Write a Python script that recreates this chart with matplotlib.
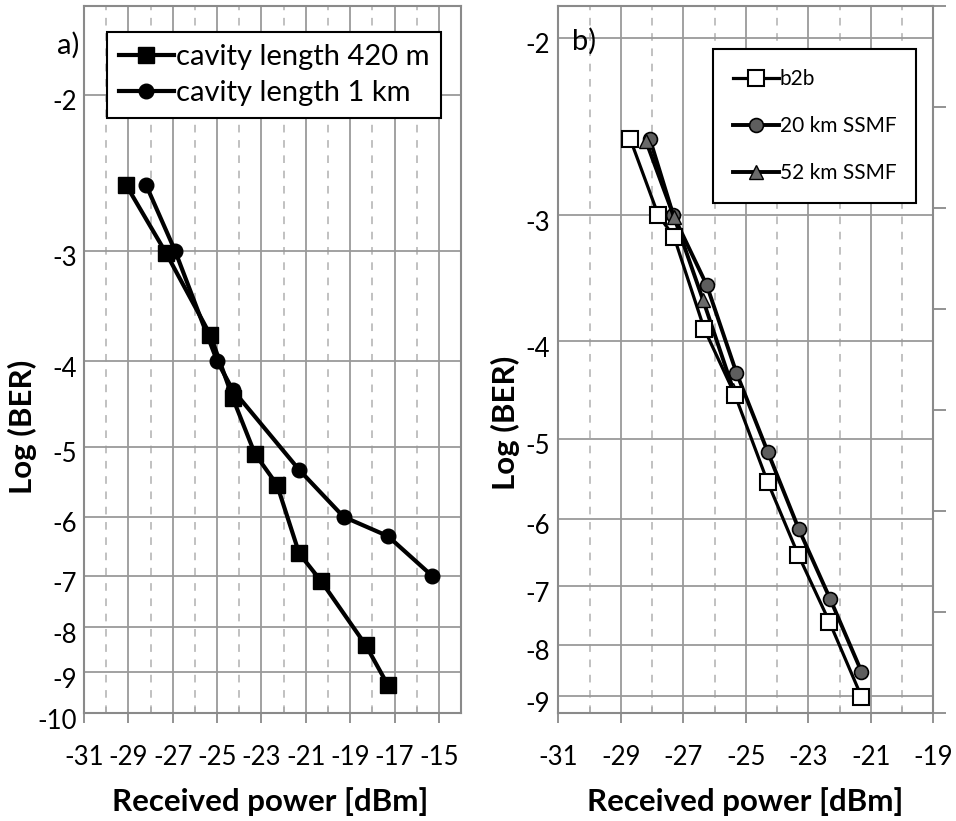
import numpy as np
import matplotlib
matplotlib.use("Agg")
import matplotlib.pyplot as plt
import matplotlib.transforms as mtransforms
from matplotlib.ticker import FixedLocator, MultipleLocator

plt.rcParams['font.family'] = ['Lato', 'DejaVu Sans']
plt.rcParams['axes.unicode_minus'] = False

# panel a) - cavity length
p_420m = [-29.1, -27.3, -25.3, -24.3, -23.3, -22.3, -21.3, -20.3, -18.3, -17.3]
ber_420m = [-2.53, -3.02, -3.74, -4.40, -5.09, -5.52, -6.60, -7.10, -8.38, -9.30]
p_1km = [-28.2, -26.9, -25.0, -24.3, -21.3, -19.3, -17.3, -15.3]
ber_1km = [-2.53, -3.00, -4.00, -4.31, -5.31, -6.00, -6.31, -7.00]

# panel b) - transmission
p_b2b = [-28.7, -27.8, -27.3, -26.33, -25.35, -24.3, -23.32, -22.33, -21.3]
ber_b2b = [-2.52, -3.00, -3.15, -3.89, -4.52, -5.52, -6.52, -7.59, -9.01]
p_20km = [-28.07, -27.32, -26.25, -25.3, -24.3, -23.3, -22.3, -21.3]
ber_20km = [-2.52, -3.00, -3.52, -4.30, -5.15, -6.15, -7.21, -8.51]
p_52km = [-28.2, -27.3, -26.37, -25.4]
ber_52km = [-2.53, -3.01, -3.64, -4.47]

yticks_a = [-2, -3, -4, -5, -6, -7, -8, -9, -10]
yticks_b = [-2, -3, -4, -5, -6, -7, -8, -9]


def fwd(y):
    y = np.asarray(y, dtype=float)
    with np.errstate(divide='ignore', invalid='ignore'):
        return -np.log10(np.maximum(-y, 1e-9))


def inv(t):
    return -10 ** (-np.asarray(t, dtype=float))


GRID = '#9a9a9a'
DASH = '#b0b0b0'


def style_axes(ax, xlim, ylim, yticks, ypad):
    ax.set_yscale('function', functions=(fwd, inv))
    ax.set_xlim(*xlim)
    ax.set_ylim(*ylim)
    ax.xaxis.set_major_locator(FixedLocator(np.arange(-31, xlim[1] + 0.1, 2)))
    ax.xaxis.set_minor_locator(FixedLocator(np.arange(-30, xlim[1] - 0.1, 2)))
    ax.set_xticklabels([str(int(v)) for v in np.arange(-31, xlim[1] + 0.1, 2)])
    ax.yaxis.set_major_locator(FixedLocator(yticks))
    ax.yaxis.set_minor_locator(FixedLocator([]))
    ax.set_yticklabels([str(v) for v in yticks])
    ax.grid(True, which='major', axis='both', color=GRID, lw=1.3, zorder=0)
    ax.grid(True, which='minor', axis='x', color=DASH, lw=1.1, ls=(0, (5, 5)), zorder=0)
    for s in ax.spines.values():
        s.set_color('#8a8a8a')
        s.set_linewidth(1.5)
    ax.tick_params(axis='x', which='major', direction='out', length=7, width=1.3,
                   color='#8a8a8a', labelsize=18.5, pad=16)
    ax.tick_params(axis='x', which='minor', direction='in', length=4, width=1.1,
                   color='#aaaaaa')
    ax.tick_params(axis='y', which='major', length=0, labelsize=18.5, pad=ypad)
    # excel puts the y labels a little below their grid line
    off = mtransforms.ScaledTranslation(0, -4 / 72, fig.dpi_scale_trans)
    for lab in ax.get_yticklabels():
        lab.set_transform(lab.get_transform() + off)
    ax.set_xlabel('Received power [dBm]', fontsize=22.5, fontweight='bold')
    ax.set_ylabel('Log (BER)', fontsize=22.5, fontweight='bold')


fig = plt.figure(figsize=(9.56, 8.21), dpi=100)

# a)
ax1 = fig.add_axes([0.0879, 0.1316, 0.3944, 0.8611])
style_axes(ax1, (-31, -14), (-10, -1.587), yticks_a, 5)
ax1.plot(p_420m, ber_420m, color='black', lw=3, marker='s', ms=11,
         mfc='black', mec='black', label='cavity length 420 m', zorder=3)
ax1.plot(p_1km, ber_1km, color='black', lw=3, marker='o', ms=10.5,
         mfc='black', mec='black', label='cavity length 1 km', zorder=3)
ax1.xaxis.set_label_coords(0.493, -0.105)
ax1.yaxis.set_label_coords(-0.125, 0.405)
leg1 = ax1.legend(loc='upper left', bbox_to_anchor=(0.061, 0.963), borderaxespad=0,
                  fontsize=21, frameon=True, fancybox=False, handlelength=1.9,
                  handletextpad=0.05, labelspacing=0.35, borderpad=0.4)
leg1.get_frame().set_edgecolor('black')
leg1.get_frame().set_linewidth(1.5)
leg1.get_frame().set_alpha(1)
fig.text(0.071, 0.945, 'a)', fontsize=21, ha='center', va='center')

# b)
ax2 = fig.add_axes([0.584, 0.1312, 0.3923, 0.8615])
style_axes(ax2, (-31, -19), (-9.36, -1.86), yticks_b, 6)
ax2.plot(p_b2b, ber_b2b, color='black', lw=2.3, marker='s', ms=11.5,
         mfc='white', mec='black', mew=1.5, label='b2b', zorder=4)
ax2.plot(p_20km, ber_20km, color='black', lw=2.8, marker='o', ms=10,
         mfc='#5e5e5e', mec='black', mew=1.2, label='20 km SSMF', zorder=3)
ax2.plot(p_52km, ber_52km, color='black', lw=2.8, marker='^', ms=10,
         mfc='#6a6a6a', mec='black', mew=1.0, label='52 km SSMF', zorder=3)
ax2.xaxis.set_label_coords(0.499, -0.105)
ax2.yaxis.set_label_coords(-0.102, 0.41)
leg2 = ax2.legend(loc='upper left', bbox_to_anchor=(0.4125, 0.939), borderaxespad=0,
                  fontsize=15, frameon=True, fancybox=False, handlelength=2.2,
                  handletextpad=0.05, labelspacing=1.3, borderpad=0.95)
leg2.get_frame().set_edgecolor('black')
leg2.get_frame().set_linewidth(1.5)
leg2.get_frame().set_alpha(1)
ax2.text(0.07, 0.95, 'b)', transform=ax2.transAxes, fontsize=21, ha='center', va='center')

# unlabeled ticks on the right side of panel b)
ax2r = ax2.twinx()
ax2r.set_ylim(0, 7)
ax2r.yaxis.set_major_locator(MultipleLocator(1))
ax2r.set_yticklabels([])
ax2r.tick_params(axis='y', direction='out', length=9, width=1.3, color='#8a8a8a')
for s in ax2r.spines.values():
    s.set_visible(False)

fig.savefig('out.png', dpi=100)
